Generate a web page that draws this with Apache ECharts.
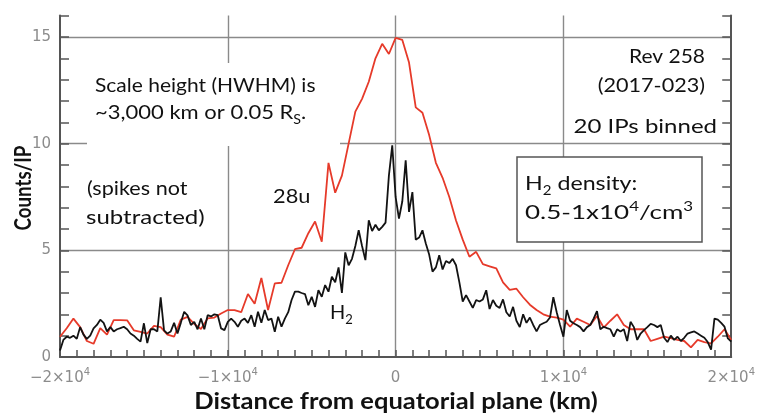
<!DOCTYPE html>
<html>
<head>
<meta charset="utf-8">
<script src="https://cdn.jsdelivr.net/npm/echarts@6/dist/echarts.min.js"></script>
<style>
  html, body { margin: 0; padding: 0; background: #fff; }
  #chart { width: 758px; height: 415px; }
</style>
</head>
<body>
<div id="chart"></div>
<script>
// Distance bins (km) for the two mass channels
const xStartKm = -20000;
const step28u = 400;
const stepH2 = 200;

// 28u counts per IP, 400 km bins from -20000 to 20000 km
const counts28u = [
  0.95, 1.35, 1.8, 1.4, 0.75, 0.62, 1.35, 1.05, 1.73, 1.73,
  1.72, 1.25, 1.18, 1.1, 1.46, 1.4, 1.05, 0.95, 1.75, 1.88,
  1.55, 1.31, 1.81, 1.85, 2.04, 2.2, 2.2, 2.1, 2.95, 2.5,
  3.7, 2.2, 3.45, 3.48, 4.3, 5.05, 5.12, 5.8, 6.35, 5.4,
  9.1, 7.7, 8.5, 10.0, 11.5, 12.1, 12.9, 14.0, 14.68, 14.2,
  14.96, 14.86, 13.8, 11.7, 11.45, 10.4, 9.1, 8.4, 7.5, 6.4,
  5.5, 4.7, 4.93, 4.35, 4.25, 4.15, 3.5, 3.15, 3.2, 2.8,
  2.45, 2.2, 2.0, 1.89, 1.85, 1.75, 1.42, 1.8, 1.65, 1.5,
  1.92, 1.38, 1.7, 2.0, 1.5, 1.3, 1.3, 1.3, 0.75, 0.85,
  0.95, 0.88, 0.8, 0.75, 0.45, 0.8, 0.7, 0.64, 0.95, 1.3,
  0.8
];

// H2 counts per IP, 200 km bins from -20000 to 20000 km
const countsH2 = [
  0.3, 0.8, 0.95, 0.9, 1.0, 0.85, 1.4, 1.05, 0.85, 1.0,
  1.34, 1.5, 1.75, 1.6, 1.2, 1.4, 1.2, 1.3, 1.35, 1.42,
  1.3, 1.1, 1.0, 0.85, 0.72, 1.58, 0.65, 1.3, 1.3, 1.2,
  2.8, 1.25, 1.1, 1.2, 1.6, 1.1, 1.6, 2.12, 1.95, 1.5,
  1.65, 1.3, 1.8, 1.3, 1.96, 1.9, 2.0, 1.96, 1.34, 1.26,
  1.65, 1.8, 1.65, 1.42, 1.7, 1.8, 1.6, 1.96, 1.42, 2.12,
  1.6, 2.2, 1.73, 1.8, 1.18, 1.89, 1.42, 1.8, 2.1, 2.67,
  3.06, 3.06, 3.0, 2.95, 2.43, 2.82, 2.35, 3.13, 2.82, 3.37,
  3.06, 3.76, 3.5, 4.2, 3.0, 4.9, 4.3, 4.6, 5.2, 5.94,
  5.2, 4.54, 6.41, 5.9, 6.2, 5.94, 6.1, 6.3, 8.5, 9.92,
  7.5, 6.49, 7.3, 9.22, 6.8, 7.73, 5.5, 5.6, 5.94, 5.32,
  4.8, 4.0, 4.2, 4.77, 4.1, 4.5, 4.4, 4.6, 4.3, 3.5,
  2.6, 2.9, 2.6, 2.3, 2.67, 2.6, 2.7, 3.13, 2.25, 2.67,
  2.4, 2.3, 2.7, 2.1, 1.9, 2.35, 1.7, 1.4, 2.0, 1.6,
  1.85, 1.5, 1.2, 1.5, 1.58, 1.65, 1.85, 2.8, 2.1, 1.5,
  0.95, 2.2, 1.7, 1.58, 1.5, 1.4, 1.2, 1.4, 1.5, 1.8,
  2.15, 1.3, 1.42, 1.35, 1.3, 0.95, 1.3, 1.2, 1.3, 0.75,
  1.65, 1.4, 0.8, 1.1, 1.26, 1.4, 1.55, 1.5, 1.4, 1.5,
  0.9, 0.7, 1.0, 0.8, 0.95, 0.75, 0.9, 1.1, 1.15, 1.2,
  1.1, 1.0, 0.9, 0.7, 0.35, 1.8, 1.75, 1.6, 1.42, 0.87,
  0.72
];

// Labelled ticks
const xLabelTicks = [-20000, -10000, 0, 10000, 20000];
const yLabelTicks = [0, 5, 10, 15];

const textFont = 'Lato, "Open Sans", sans-serif';
const tickFont = '"DejaVu Sans", sans-serif';
const axisColor = '#555';
const gridColor = '#8a8a8a';
const tickLabelColor = '#8c8c8c';
const ink = '#111';

const series28u = counts28u.map((v, i) => [xStartKm + i * step28u, v]);
const seriesH2 = countsH2.map((v, i) => [xStartKm + i * stepH2, v]);

function xLabel(v) {
  if (!xLabelTicks.includes(v)) return '';
  if (v === 0) return '{m|0}';
  const sign = v < 0 ? '\u2212' : '';
  return '{m|' + sign + Math.abs(v / 10000) + '\u00d710}{s|4}';
}

const baseAxis = {
  type: 'value',
  axisLine: { show: true, onZero: false, lineStyle: { color: axisColor, width: 2 } },
  axisTick: { show: true, inside: true, length: 9, lineStyle: { color: axisColor, width: 1.5 } },
  splitLine: { show: false }
};

// rich styles shared by the annotation texts
const richNotes = {
  n: { fontFamily: textFont, fontSize: 20, lineHeight: 26, fill: ink, color: ink },
  b: { fontFamily: textFont, fontSize: 13, lineHeight: 13, verticalAlign: 'bottom', fill: ink, color: ink },
  p: { fontFamily: textFont, fontSize: 13, lineHeight: 13, verticalAlign: 'top', fill: ink, color: ink }
};

// one annotation line; sx widens the glyphs a little
function note(x, y, text, align, sx) {
  return {
    type: 'text', z: 5, silent: true, x: x, y: y, scaleX: sx || 1,
    style: {
      x: 0, y: 0, text: text, fill: ink, rich: richNotes,
      font: '20px ' + textFont,
      align: align, verticalAlign: 'middle', textAlign: align, textVerticalAlign: 'middle'
    }
  };
}

const chart = echarts.init(document.getElementById('chart'), null, { renderer: 'canvas' });

chart.setOption({
  animation: false,
  backgroundColor: '#fff',
  grid: { left: 60, right: 26, top: 15.6, bottom: 58, containLabel: false },
  xAxis: [
    Object.assign({}, baseAxis, {
      min: -20000, max: 20000, interval: 1000,
      axisTick: { show: true, inside: true, length: 7, lineStyle: { color: axisColor, width: 1.5 } },
      axisLabel: {
        show: true, margin: 10, formatter: xLabel, color: tickLabelColor,
        fontFamily: tickFont, fontSize: 15,
        rich: {
          m: { fontFamily: tickFont, fontSize: 15, color: tickLabelColor, lineHeight: 22 },
          s: { fontFamily: tickFont, fontSize: 10, color: tickLabelColor, lineHeight: 12, verticalAlign: 'top' }
        }
      }
    }),
    {
      type: 'value', min: -20000, max: 20000, interval: 10000, position: 'bottom',
      axisLine: { show: false, onZero: false }, axisTick: { show: false }, axisLabel: { show: false },
      splitLine: { show: true, showMinLine: false, showMaxLine: false, lineStyle: { color: gridColor, width: 1.4 } }
    }
  ],
  yAxis: [
    Object.assign({}, baseAxis, {
      min: 0, max: 16, interval: 1, position: 'left',
      axisLabel: {
        show: true, margin: 9, color: tickLabelColor, fontFamily: tickFont, fontSize: 15,
        formatter: v => (yLabelTicks.includes(v) ? String(v) : '')
      }
    }),
    Object.assign({}, baseAxis, {
      min: 0, max: 16, interval: 1, position: 'right',
      axisLabel: { show: false }
    }),
    {
      type: 'value', min: 0, max: 16, interval: 5, position: 'left',
      axisLine: { show: false, onZero: false }, axisTick: { show: false }, axisLabel: { show: false },
      splitLine: { show: true, showMinLine: false, showMaxLine: false, lineStyle: { color: gridColor, width: 1.4 } }
    }
  ],
  series: [
    {
      name: '28u', type: 'line', data: series28u, xAxisIndex: 0, yAxisIndex: 0,
      showSymbol: false, z: 3,
      lineStyle: { color: '#e63a2a', width: 1.8 }
    },
    {
      name: 'H2', type: 'line', data: seriesH2, xAxisIndex: 0, yAxisIndex: 0,
      showSymbol: false, z: 4,
      lineStyle: { color: '#131313', width: 1.8 }
    }
  ],
  graphic: [
    // white panel behind the scale-height note
    { type: 'rect', z: 1, silent: true, shape: { x: 87, y: 63, width: 253, height: 83 }, style: { fill: '#fff' } },
    // framed density note
    { type: 'rect', z: 1, silent: true, shape: { x: 517, y: 157, width: 185, height: 85 },
      style: { fill: '#fff', stroke: '#555', lineWidth: 1.5 } },
    note(95, 86, 'Scale height (HWHM) is', 'left', 1.05),
    note(95, 113, '{n|~3,000 km or 0.05 R}{b|S}{n|.}', 'left', 1.1),
    note(87, 189, '(spikes not', 'left', 1.08),
    note(86, 218, 'subtracted)', 'left', 1.2),
    note(273, 197, '28u', 'left', 1.09),
    note(330, 313, '{n|H}{b|2}', 'left', 1.0),
    note(705, 57, 'Rev 258', 'right', 1.05),
    note(705, 86, '(2017-023)', 'right', 1.08),
    note(717, 127, '20 IPs binned', 'right', 1.2),
    note(525, 184, '{n|H}{b|2}{n| density:}', 'left', 1.16),
    note(525, 213, '{n|0.5-1x10}{p|4}{n|/cm}{p|3}', 'left', 1.3),
    // axis titles
    { type: 'text', z: 5, silent: true, rotation: Math.PI / 2, x: 24, y: 188, scaleX: 0.85,
      style: { x: 0, y: 0, text: 'Counts/IP', font: 'bold 22px ' + textFont, fill: ink,
               align: 'center', verticalAlign: 'middle', textAlign: 'center', textVerticalAlign: 'middle' } },
    { type: 'text', z: 5, silent: true, x: 396, y: 402, scaleX: 1.16,
      style: { x: 0, y: 0, text: 'Distance from equatorial plane (km)', font: 'bold 22px ' + textFont, fill: ink,
               align: 'center', verticalAlign: 'middle', textAlign: 'center', textVerticalAlign: 'middle' } }
  ]
});
</script>
</body>
</html>
